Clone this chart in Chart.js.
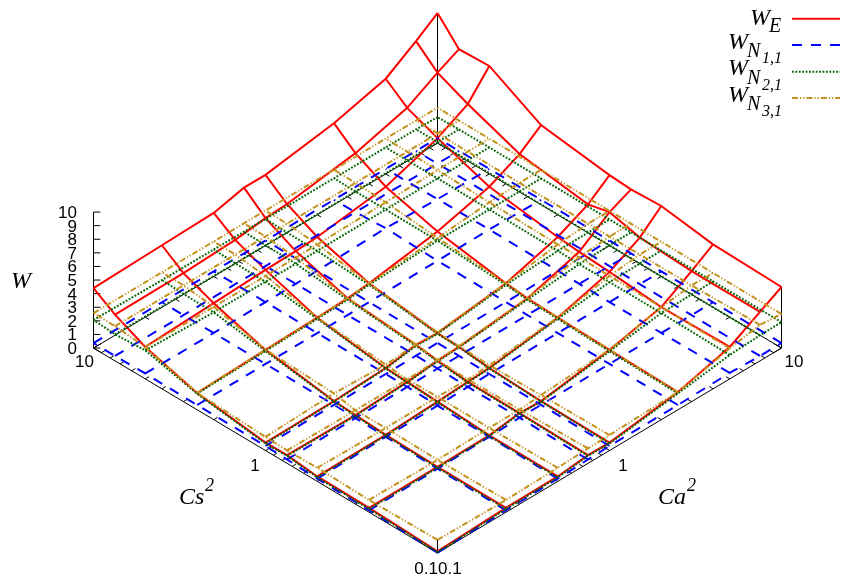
<!DOCTYPE html>
<html>
<head>
<meta charset="utf-8">
<style>
html, body { margin: 0; padding: 0; background: #fff; }
canvas { display: block; }
</style>
<script src="https://cdn.jsdelivr.net/npm/chart.js@4"></script>
</head>
<body>
<canvas id="chart" width="841" height="582"></canvas>
<script>
// grid values on both log axes
const gridValues = [0.1, 0.25, 0.5, 0.75, 1, 2.5, 5, 7.5, 10]
const zTicks = [0, 1, 2, 3, 4, 5, 6, 7, 8, 9, 10]
const logTicks = [0.1, 0.2, 0.3, 0.4, 0.5, 0.6, 0.7, 0.8, 0.9, 1, 2, 3, 4, 5, 6, 7, 8, 9, 10]
const majorTicks = [0.1, 1, 10]

// rows are Cs2, columns are Ca2
const wE = [
  [0.12, 0.32, 0.36, 0.60, 0.58, 1.30, 2.35, 3.60, 4.49],
  [0.32, 0.34, 0.38, 0.70, 0.64, 1.40, 2.28, 3.60, 4.63],
  [0.36, 0.42, 0.60, 0.72, 0.80, 1.50, 2.60, 3.80, 5.18],
  [0.60, 0.55, 0.72, 0.96, 1.03, 1.60, 2.75, 4.34, 5.07],
  [0.58, 0.64, 0.80, 1.18, 1.10, 1.76, 2.90, 3.97, 5.18],
  [1.23, 1.40, 1.50, 1.60, 1.76, 2.57, 3.60, 4.67, 5.86],
  [2.35, 2.57, 2.75, 2.80, 2.90, 3.60, 4.90, 6.08, 7.94],
  [3.40, 3.45, 3.63, 3.90, 4.00, 4.74, 5.80, 7.06, 7.85],
  [4.41, 4.56, 4.67, 5.20, 5.20, 6.00, 7.00, 8.44, 9.56]
]
const wN11 = [
  [0.02, 0.14, 0.20, 0.28, 0.34, 0.35, 0.44, 0.36, 0.37],
  [0.14, 0.20, 0.28, 0.36, 0.36, 0.37, 0.38, 0.36, 0.37],
  [0.20, 0.28, 0.30, 0.35, 0.36, 0.37, 0.38, 0.37, 0.37],
  [0.28, 0.33, 0.35, 0.38, 0.37, 0.37, 0.40, 0.37, 0.37],
  [0.34, 0.36, 0.36, 0.38, 0.37, 0.38, 0.42, 0.38, 0.37],
  [0.35, 0.37, 0.37, 0.37, 0.38, 0.42, 0.45, 0.40, 0.37],
  [0.40, 0.38, 0.38, 0.40, 0.42, 0.55, 0.42, 0.38, 0.37],
  [0.36, 0.36, 0.37, 0.37, 0.38, 0.40, 0.38, 0.37, 0.37],
  [0.37, 0.37, 0.37, 0.37, 0.37, 0.37, 0.37, 0.37, 0.37]
]
const wN21 = [
  [0.06, 0.24, 0.30, 0.55, 0.52, 1.20, 1.76, 1.88, 1.90],
  [0.24, 0.27, 0.33, 0.65, 0.60, 1.30, 1.84, 1.88, 1.90],
  [0.30, 0.38, 0.55, 0.68, 0.76, 1.42, 1.85, 1.88, 1.90],
  [0.55, 0.50, 0.68, 0.90, 1.00, 1.50, 1.85, 1.90, 1.92],
  [0.52, 0.60, 0.76, 1.10, 1.05, 1.65, 1.88, 1.90, 1.92],
  [1.18, 1.32, 1.42, 1.50, 1.65, 1.90, 1.92, 1.92, 1.94],
  [2.10, 1.90, 1.88, 1.88, 1.88, 1.92, 1.94, 1.95, 1.95],
  [1.95, 1.92, 1.90, 1.90, 1.90, 1.92, 1.94, 1.95, 1.95],
  [2.06, 2.00, 1.98, 1.96, 1.95, 1.95, 1.95, 1.95, 1.90]
]
const wN31 = [
  [0.96, 0.90, 1.00, 1.10, 1.14, 1.30, 2.25, 2.65, 2.50],
  [0.90, 0.85, 0.93, 0.95, 1.08, 1.42, 2.28, 2.55, 2.52],
  [1.00, 0.93, 0.95, 0.90, 1.00, 1.52, 2.30, 2.55, 2.55],
  [0.95, 0.90, 0.90, 1.00, 1.08, 1.62, 2.35, 2.55, 2.55],
  [1.00, 1.20, 1.05, 1.20, 1.15, 1.76, 2.35, 2.55, 2.55],
  [1.25, 1.42, 1.52, 1.62, 1.76, 2.10, 2.45, 2.55, 2.58],
  [2.35, 2.30, 2.30, 2.32, 2.35, 2.45, 2.55, 2.58, 2.60],
  [2.55, 2.55, 2.55, 2.55, 2.55, 2.55, 2.58, 2.60, 2.60],
  [2.57, 2.57, 2.57, 2.58, 2.58, 2.58, 2.60, 2.60, 2.60]
]

// view of the box: one W unit is the y unit, base is squashed to fit
const baseDepth = 15.07

const logPos = v => (Math.log10(v) + 1) / 2
const project = (cs, ca, w) => ({
  x: logPos(ca) - logPos(cs),
  y: (logPos(ca) + logPos(cs)) * baseDepth + w
})

const datasets = []

// black box lines and ticks are one broken line, null ends a piece
const boxLines = []
const addLine = (a, b) => { boxLines.push(a, b, { x: null, y: null }) }

addLine(project(0.1, 0.1, 0), project(10, 0.1, 0))
addLine(project(0.1, 0.1, 0), project(0.1, 10, 0))
addLine(project(10, 0.1, 0), project(10, 10, 0))
addLine(project(0.1, 10, 0), project(10, 10, 0))
addLine(project(10, 0.1, 0), project(10, 0.1, 10))
addLine(project(0.1, 10, 0), project(0.1, 10, wE[0][8]))
addLine(project(10, 10, 0), project(10, 10, wE[8][8]))
addLine(project(0.1, 0.1, 0), project(0.1, 0.1, wN31[0][0]))

logTicks.forEach(v => {
  let len = majorTicks.includes(v) ? 0.022 : 0.011
  let up = Math.pow(10, 2 * len)
  // Cs ticks on both sides
  addLine(project(v, 0.1, 0), project(v, 0.1 * up, 0))
  addLine(project(v, 10, 0), project(v, 10 / up, 0))
  // Ca ticks on both sides
  addLine(project(0.1, v, 0), project(0.1 * up, v, 0))
  addLine(project(10, v, 0), project(10 / up, v, 0))
})
zTicks.forEach(z => {
  let p = project(10, 0.1, z)
  addLine(p, { x: p.x + 0.02, y: p.y })
})

datasets.push({
  data: boxLines,
  borderColor: '#000000',
  borderWidth: 1,
  pointRadius: 0,
  showLine: true,
  spanGaps: false,
  order: 10
})

const redDash = []
const blueDash = [10, 9]
const greenDash = [1.8, 1.6]
const goldDash = [6, 2, 1.2, 2, 1.2, 2]

// every surface is drawn as its two families of grid lines
const addSurface = (table, color, width, dash, order) => {
  gridValues.forEach((v, i) => {
    datasets.push({
      data: gridValues.map((u, j) => project(v, u, table[i][j])),
      borderColor: color, borderWidth: width, borderDash: dash,
      pointRadius: 0, showLine: true, order: order
    })
    datasets.push({
      data: gridValues.map((u, j) => project(u, v, table[j][i])),
      borderColor: color, borderWidth: width, borderDash: dash,
      pointRadius: 0, showLine: true, order: order
    })
  })
}
addSurface(wE, '#ff0000', 2, redDash, 4)
addSurface(wN11, '#0000ff', 2, blueDash, 3)
addSurface(wN21, '#006400', 2, greenDash, 2)
addSurface(wN31, '#c4921c', 2, goldDash, 1)

const sansFont = '17px "Liberation Sans"'
const serifFont = size => 'italic ' + size + 'px "Liberation Serif"'

const textPlugin = {
  id: 'textPlugin',
  afterDraw(chart) {
    const c = chart.ctx
    const sx = chart.scales.x
    const sy = chart.scales.y
    const put = (text, x, y, font, align) => {
      c.font = font
      c.textAlign = align || 'left'
      c.textBaseline = 'alphabetic'
      c.fillStyle = '#000'
      c.fillText(text, x, y)
    }
    c.save()
    // z axis numbers
    zTicks.forEach(z => {
      let p = project(10, 0.1, z)
      put(String(z), sx.getPixelForValue(p.x) - 16.5, sy.getPixelForValue(p.y) + 6, sansFont, 'right')
    })
    // base axis numbers
    put('0.1', 438, 574, sansFont, 'right')
    put('0.1', 438, 574, sansFont, 'left')
    put('1', 255, 471, sansFont, 'center')
    put('1', 623, 471, sansFont, 'center')
    put('10', 84.5, 367, sansFont, 'center')
    put('10', 794, 367, sansFont, 'center')
    // axis titles
    put('W', 11, 288, serifFont(24))
    put('Cs', 179, 504, serifFont(24))
    put('2', 205, 491, serifFont(18))
    put('Ca', 658, 504, serifFont(24))
    put('2', 687, 491, serifFont(18))
    // key
    const keyRows = [
      { y: 18.7, sub: 'E', subsub: '', color: '#ff0000', width: 2, dash: redDash },
      { y: 45, sub: 'N', subsub: '1,1', color: '#0000ff', width: 2, dash: blueDash },
      { y: 71.7, sub: 'N', subsub: '2,1', color: '#006400', width: 2, dash: greenDash },
      { y: 98, sub: 'N', subsub: '3,1', color: '#c4921c', width: 2, dash: goldDash }
    ]
    keyRows.forEach(r => {
      if (r.subsub) {
        put('W', 728, r.y + 3.5, serifFont(24))
        put(r.sub, 747, r.y + 12, serifFont(20))
        put(r.subsub, 762, r.y + 18, serifFont(16))
      } else {
        put('W', 750, r.y + 6.3, serifFont(24))
        put(r.sub, 769, r.y + 13.3, serifFont(20))
      }
      c.beginPath()
      c.strokeStyle = r.color
      c.lineWidth = r.width
      c.setLineDash(r.dash)
      c.moveTo(792, r.y)
      c.lineTo(840, r.y)
      c.stroke()
      c.setLineDash([])
    })
    c.restore()
  }
}

new Chart(document.getElementById('chart'), {
  type: 'scatter',
  data: { datasets: datasets },
  options: {
    responsive: false,
    animation: false,
    layout: { padding: 0 },
    plugins: { legend: { display: false }, tooltip: { enabled: false } },
    scales: {
      x: { type: 'linear', display: false, min: -437.5 / 344, max: 403.5 / 344 },
      y: { type: 'linear', display: false, min: -29 / 13.6, max: 553 / 13.6 }
    }
  },
  plugins: [textPlugin]
})
</script>
</body>
</html>
